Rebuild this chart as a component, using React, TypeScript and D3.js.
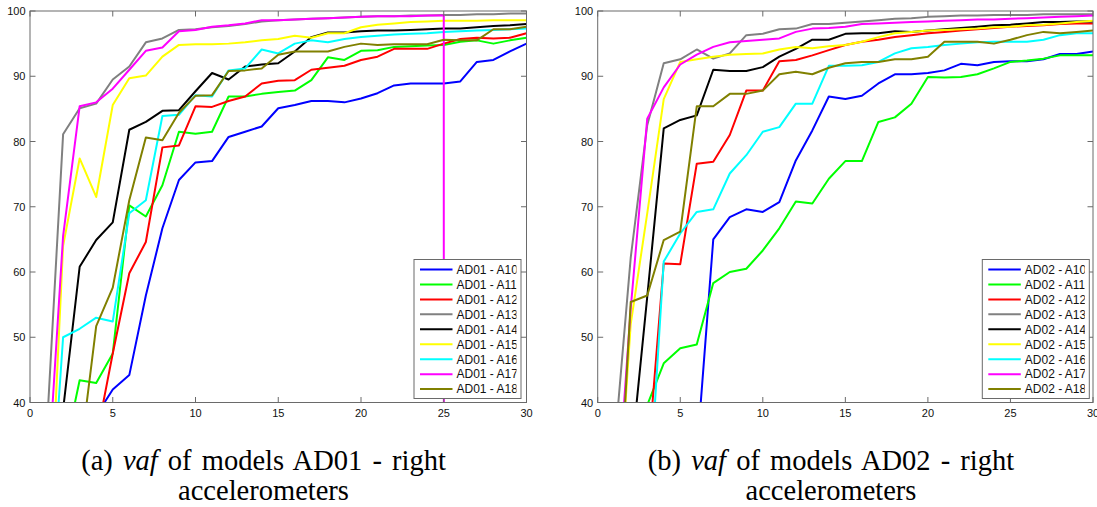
import React from "react";
import * as d3 from "d3";

const xValues = [1, 2, 3, 4, 5, 6, 7, 8, 9, 10, 11, 12, 13, 14, 15, 16, 17, 18, 19, 20, 21, 22, 23, 24, 25, 26, 27, 28, 29, 30];
const xTicks = [0, 5, 10, 15, 20, 25, 30];
const yTicks = [40, 50, 60, 70, 80, 90, 100];
const seriesNames = ["A10", "A11", "A12", "A13", "A14", "A15", "A16", "A17", "A18"];
const seriesColors = ["#0000ff", "#00ff00", "#ff0000", "#808080", "#000000", "#ffff00", "#00ffff", "#ff00ff", "#808000"];

// Panel (a): AD01 - right accelerometers
const ad01A10 = [20, 25, 30, 38, 42.0, 44.2, 56.4, 66.7, 74.1, 76.8, 77.0, 80.7, 81.5, 82.3, 85.1, 85.6, 86.2, 86.2, 86.0, 86.6, 87.4, 88.6, 88.9, 88.9, 88.9, 89.2, 92.2, 92.5, 93.8, 95.0];
const ad01A11 = [25, 31.4, 43.4, 43.0, 47.5, 70.2, 68.5, 73.3, 81.5, 81.2, 81.5, 86.9, 86.9, 87.3, 87.6, 87.8, 89.4, 92.9, 92.5, 93.9, 94.0, 94.5, 94.6, 94.7, 94.8, 95.3, 95.5, 95.0, 95.5, 95.9];
const ad01A12 = [20, 25, 30, 34.4, 47.5, 59.8, 64.6, 79.1, 79.4, 85.4, 85.3, 86.2, 86.9, 88.9, 89.3, 89.4, 91.0, 91.3, 91.6, 92.5, 93.0, 94.2, 94.2, 94.2, 95.0, 95.7, 95.9, 95.8, 95.9, 96.6];
const ad01A13 = [35, 81.1, 85.1, 85.8, 89.5, 91.5, 95.2, 95.8, 97.1, 97.2, 97.5, 97.7, 98.0, 98.4, 98.6, 98.7, 98.8, 98.9, 99.0, 99.1, 99.2, 99.2, 99.3, 99.3, 99.4, 99.4, 99.5, 99.5, 99.6, 99.6];
const ad01A14 = [20, 38.9, 60.8, 64.9, 67.6, 81.8, 83.0, 84.7, 84.8, 87.7, 90.5, 89.5, 91.5, 91.8, 92.0, 93.8, 96.0, 96.7, 96.7, 96.9, 97.0, 97.0, 97.1, 97.2, 97.3, 97.3, 97.5, 97.7, 97.8, 98.0];
const ad01A15 = [10, 64, 77.4, 71.5, 85.6, 89.7, 90.1, 93.0, 94.8, 94.9, 94.9, 95.0, 95.2, 95.5, 95.7, 96.2, 95.9, 96.6, 96.6, 97.5, 97.9, 98.1, 98.3, 98.4, 98.5, 98.5, 98.5, 98.6, 98.6, 98.6];
const ad01A16 = [13, 50.0, 51.3, 53.0, 52.4, 69.0, 71.0, 83.9, 84.1, 87.1, 86.9, 90.9, 91.2, 94.1, 93.5, 95.0, 95.5, 95.2, 95.7, 96.0, 96.2, 96.4, 96.5, 96.6, 96.8, 96.9, 97.0, 97.1, 97.2, 97.3];
const ad01A17 = [25, 65.5, 85.4, 86.0, 88.1, 91.0, 93.9, 94.4, 96.9, 97.1, 97.6, 97.8, 98.1, 98.6, 98.6, 98.7, 98.8, 98.9, 99.0, 99.1, 99.2, 99.2, 99.2, 99.3, 99.3, -10000, -10000, -10000, -10000, -10000];
const ad01A18 = [15, 22, 31.2, 51.7, 57.6, 71.0, 80.6, 80.2, 84.4, 87.0, 87.1, 90.8, 90.9, 91.2, 93.3, 93.8, 93.8, 93.8, 94.5, 95.0, 94.8, 94.9, 94.9, 94.9, 95.6, 95.5, 95.5, 97.2, 97.2, 97.6];

// Panel (b): AD02 - right accelerometers
const ad02A10 = [10, 15, 20, 25, 28, 32, 65.0, 68.4, 69.6, 69.2, 70.7, 77.1, 81.7, 86.9, 86.5, 87.0, 88.9, 90.3, 90.3, 90.5, 90.9, 91.9, 91.7, 92.2, 92.3, 92.3, 92.6, 93.4, 93.4, 93.8];
const ad02A11 = [20, 30, 39.6, 46.0, 48.3, 48.9, 58.3, 60.0, 60.5, 63.3, 66.7, 70.8, 70.5, 74.3, 77.0, 77.0, 83.0, 83.7, 85.8, 89.9, 89.8, 89.9, 90.3, 91.2, 92.2, 92.4, 92.7, 93.2, 93.2, 93.2];
const ad02A12 = [15, 20, 30, 61.3, 61.2, 76.6, 76.9, 81.0, 87.8, 87.8, 92.3, 92.5, 93.2, 94.0, 94.8, 95.3, 95.6, 96.0, 96.3, 96.6, 96.8, 97.0, 97.2, 97.4, 97.6, 97.7, 97.8, 98.0, 98.1, 98.1];
const ad02A13 = [32.6, 62.2, 82.5, 92.0, 92.6, 94.1, 92.7, 93.5, 96.3, 96.5, 97.2, 97.3, 98.0, 98.0, 98.2, 98.4, 98.6, 98.8, 98.9, 99.1, 99.2, 99.3, 99.3, 99.4, 99.4, 99.4, 99.5, 99.5, 99.5, 99.5];
const ad02A14 = [20, 30.9, 56.2, 82.0, 83.3, 84.0, 91.0, 90.8, 90.8, 91.4, 93.0, 94.2, 95.6, 95.6, 96.5, 96.6, 96.6, 96.9, 96.8, 97.0, 97.2, 97.4, 97.6, 97.8, 97.9, 98.1, 98.3, 98.3, 98.4, 98.4];
const ad02A15 = [14, 52, 69, 86.5, 92.2, 92.6, 93.0, 93.3, 93.4, 93.5, 94.1, 94.5, 94.3, 94.6, 94.8, 95.3, 96.0, 96.6, 96.8, 97.0, 97.1, 97.2, 97.3, 97.5, 97.6, 97.8, 97.9, 98.1, 98.3, 98.5];
const ad02A16 = [10, 15, 20.8, 61.6, 65.9, 69.2, 69.6, 75.1, 77.9, 81.5, 82.2, 85.8, 85.8, 91.6, 91.6, 91.7, 92.2, 93.5, 94.3, 94.5, 94.8, 95.0, 95.2, 95.3, 95.3, 95.3, 95.6, 96.3, 96.6, 96.6];
const ad02A17 = [18.5, 54.4, 83.5, 88.3, 91.8, 93.3, 94.5, 95.2, 95.4, 95.6, 95.8, 96.8, 97.3, 97.4, 97.6, 98.0, 98.1, 98.2, 98.3, 98.4, 98.5, 98.6, 98.7, 98.7, 98.8, 98.9, 99.0, 99.1, 99.2, 99.3];
const ad02A18 = [10, 55.4, 56.4, 64.9, 66.2, 85.4, 85.4, 87.3, 87.3, 87.8, 90.3, 90.7, 90.3, 91.3, 92.0, 92.2, 92.2, 92.6, 92.6, 93.0, 95.3, 95.3, 95.3, 95.0, 95.6, 96.3, 96.8, 96.6, 96.8, 97.0];

const ad01Series = [ad01A10, ad01A11, ad01A12, ad01A13, ad01A14, ad01A15, ad01A16, ad01A17, ad01A18];
const ad02Series = [ad02A10, ad02A11, ad02A12, ad02A13, ad02A14, ad02A15, ad02A16, ad02A17, ad02A18];

const AXIS_COLOR = "#6a6a6a";
const LABEL_FONT = "'Liberation Sans', Arial, Helvetica, sans-serif";
const CAPTION_FONT = "'Liberation Serif', 'Times New Roman', serif";

type PanelProps = {
  id: string;
  left: number;
  right: number;
  top: number;
  bottom: number;
  model: string;
  series: number[][];
  legendW: number;
  legendRightGap: number;
  capX: number;
  capLetter: string;
};

function Panel({ id, left, right, top, bottom, model, series, legendW, legendRightGap, capX, capLetter }: PanelProps) {
  const x = d3.scaleLinear().domain([0, 30]).range([left, right]);
  const y = d3.scaleLinear().domain([40, 100]).range([bottom, top]);
  const line = d3
    .line<number>()
    .x((_, i) => x(xValues[i]))
    .y((d) => y(d));
  const tickLen = 5.5;
  const legendH = 139;
  const lgRight = right - legendRightGap;
  const lgLeft = lgRight - legendW;
  const lgBottom = bottom - 4;
  const lgTop = lgBottom - legendH;
  const rowH = 14.95;
  return (
    <g>
      <defs>
        <clipPath id={`clip-${id}`}>
          <rect x={left} y={top} width={right - left} height={bottom - top} />
        </clipPath>
        <clipPath id={`lgclip-${id}`}>
          <rect x={lgLeft} y={lgTop} width={legendW - 4.5} height={legendH} />
        </clipPath>
      </defs>
      <rect x={left} y={top} width={right - left} height={bottom - top} fill="#fff" />
      <g clipPath={`url(#clip-${id})`}>
        {series.map((s, i) => (
          <path key={i} d={line(s) || ""} fill="none" stroke={seriesColors[i]} strokeWidth={2} strokeLinejoin="round" />
        ))}
      </g>
      <rect x={left} y={top} width={right - left} height={bottom - top} fill="none" stroke={AXIS_COLOR} strokeWidth={1} />
      {xTicks.map((t) => (
        <g key={`xt${t}`}>
          <line x1={x(t)} x2={x(t)} y1={bottom} y2={bottom - tickLen} stroke={AXIS_COLOR} />
          <line x1={x(t)} x2={x(t)} y1={top} y2={top + tickLen} stroke={AXIS_COLOR} />
          <text x={x(t)} y={bottom + 14.5} textAnchor="middle" fontSize={11} fontFamily={LABEL_FONT} fill="#111">
            {t}
          </text>
        </g>
      ))}
      {yTicks.map((t) => (
        <g key={`yt${t}`}>
          <line x1={left} x2={left + tickLen} y1={y(t)} y2={y(t)} stroke={AXIS_COLOR} />
          <line x1={right} x2={right - tickLen} y1={y(t)} y2={y(t)} stroke={AXIS_COLOR} />
          <text x={left - 4.5} y={y(t) + 4} textAnchor="end" fontSize={11} fontFamily={LABEL_FONT} fill="#111">
            {t}
          </text>
        </g>
      ))}
      <rect x={lgLeft} y={lgTop} width={legendW} height={legendH} fill="#fff" stroke={AXIS_COLOR} strokeWidth={1} />
      <g clipPath={`url(#lgclip-${id})`}>
        {seriesNames.map((n, i) => {
          const cy = lgTop + 10 + i * rowH;
          return (
            <g key={n}>
              <line x1={lgLeft + 6} x2={lgLeft + 38.5} y1={cy} y2={cy} stroke={seriesColors[i]} strokeWidth={2} />
              <text x={lgLeft + 42.5} y={cy + 4.3} fontSize={12} fontFamily={LABEL_FONT} fill="#111">
                {`${model} - ${n}`}
              </text>
            </g>
          );
        })}
      </g>
      <text x={capX} y={470} textAnchor="middle" fontSize={28.5} wordSpacing={3} fontFamily={CAPTION_FONT} fill="#000">
        {`(${capLetter}) `}
        <tspan fontStyle="italic">vaf</tspan>
        {` of models ${model} - right`}
      </text>
      <text x={capX} y={500} textAnchor="middle" fontSize={28.5} fontFamily={CAPTION_FONT} fill="#000">
        accelerometers
      </text>
    </g>
  );
}

export default function App() {
  return (
    <svg
      width={1097}
      height={507}
      viewBox="0 0 1097 507"
      style={{ position: "absolute", left: 0, top: 0, background: "#fff" }}
    >
      <rect x={0} y={0} width={1097} height={507} fill="#fff" />
      <Panel id="a" left={30} right={526.5} top={11} bottom={402.5} model="AD01" series={ad01Series} legendW={107} legendRightGap={5.5} capX={263.5} capLetter="a" />
      <Panel id="b" left={597.7} right={1093} top={11} bottom={402.5} model="AD02" series={ad02Series} legendW={107} legendRightGap={3.7} capX={831} capLetter="b" />
    </svg>
  );
}
